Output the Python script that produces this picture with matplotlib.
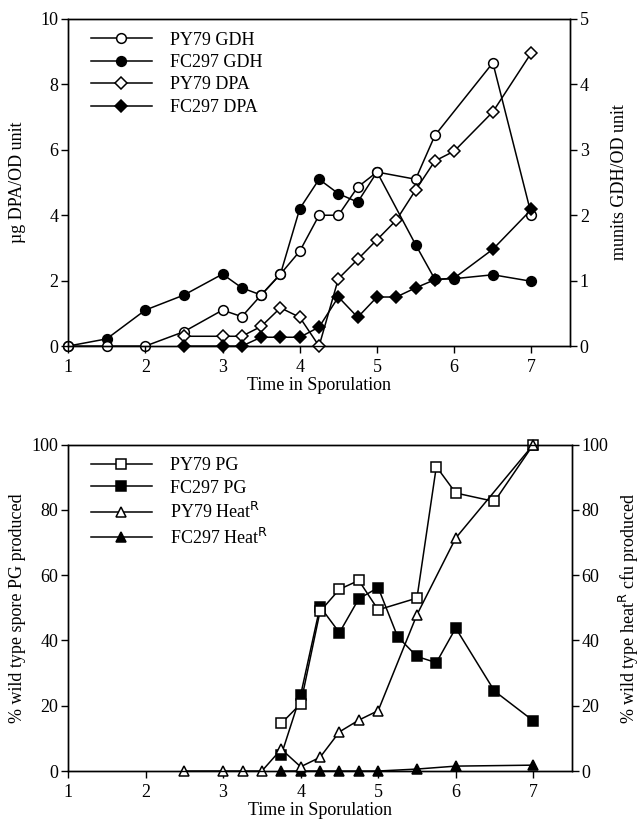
import matplotlib
matplotlib.use('Agg')
import matplotlib.pyplot as plt

plt.rcParams['font.family'] = ['Liberation Serif', 'DejaVu Serif']
plt.rcParams['mathtext.fontset'] = 'dejavusans'

# ---------------- Top panel data ----------------
t_gdh_py = [1, 1.5, 2, 2.5, 3, 3.25, 3.5, 3.75, 4, 4.25, 4.5, 4.75, 5, 5.5, 5.75, 6.5, 7]
py79_gdh = [0, 0, 0, 0.22, 0.55, 0.45, 0.78, 1.1, 1.45, 2.0, 2.0, 2.43, 2.66, 2.55, 3.22, 4.33, 2.0]
t_gdh_fc = [1, 1.5, 2, 2.5, 3, 3.25, 3.5, 3.75, 4, 4.25, 4.5, 4.75, 5, 5.5, 5.75, 6, 6.5, 7]
fc297_gdh = [0, 0.11, 0.55, 0.78, 1.1, 0.89, 0.78, 1.1, 2.1, 2.55, 2.33, 2.2, 2.66, 1.55, 1.02, 1.03, 1.09, 0.99]
t_dpa_py = [2.5, 3, 3.25, 3.5, 3.75, 4, 4.25, 4.5, 4.75, 5, 5.25, 5.5, 5.75, 6, 6.5, 7]
py79_dpa = [0.3, 0.3, 0.3, 0.6, 1.17, 0.88, 0, 2.06, 2.65, 3.25, 3.85, 4.77, 5.66, 5.96, 7.16, 8.97]
t_dpa_fc = [2.5, 3, 3.25, 3.5, 3.75, 4, 4.25, 4.5, 4.75, 5, 5.25, 5.5, 5.75, 6, 6.5, 7]
fc297_dpa = [0, 0, 0, 0.27, 0.27, 0.27, 0.58, 1.5, 0.88, 1.5, 1.5, 1.78, 2.03, 2.08, 2.96, 4.18]

# ---------------- Bottom panel data ----------------
t_pg_py = [3.75, 4, 4.25, 4.5, 4.75, 5, 5.5, 5.75, 6, 6.5, 7]
py79_pg = [14.6, 20.6, 48.9, 55.7, 58.4, 49.4, 53, 93.3, 85.2, 82.6, 100]
t_pg_fc = [3.75, 4, 4.25, 4.5, 4.75, 5, 5.25, 5.5, 5.75, 6, 6.5, 7]
fc297_pg = [4.9, 23.3, 50.4, 42.4, 52.8, 56.2, 41.2, 35.1, 33.2, 43.8, 24.5, 15.4]
t_heat_py = [2.5, 3, 3.25, 3.5, 3.75, 4, 4.25, 4.5, 4.75, 5, 5.5, 6, 7]
py79_heat = [0, 0, 0, 0, 6.7, 1.3, 4.2, 12, 15.6, 18.5, 47.9, 71.4, 100]
t_heat_fc = [3.75, 4, 4.25, 4.5, 4.75, 5, 5.5, 6, 7]
fc297_heat = [0, 0, 0, 0, 0, 0, 0.6, 1.5, 1.8]

x_ticks = [1, 2, 3, 4, 5, 6, 7]

FS = 13
LW = 1.1
MEW = 1.1

fig = plt.figure(figsize=(6.42, 8.24), dpi=100)

def style_axes(ax, ax2):
    for a in (ax, ax2):
        for s in a.spines.values():
            s.set_linewidth(1.0)
        a.tick_params(direction='out', length=5, width=1.0, labelsize=FS, pad=2)
    ax.tick_params(axis='x', pad=4)
    ax.set_xlim(1, 7.5)
    ax.set_xticks(x_ticks)
    ax.set_xlabel('Time in Sporulation', fontsize=FS, labelpad=1)

# ---------------- Top panel ----------------
ax = fig.add_axes([0.106, 0.580, 0.782, 0.397])
ax2 = ax.twinx()
ax.set_zorder(ax2.get_zorder() + 1)
ax.patch.set_visible(False)

h2, = ax2.plot(t_gdh_fc, fc297_gdh, '-o', color='black', lw=LW, ms=7,
               mfc='black', mec='black', mew=MEW, clip_on=False, label='FC297 GDH')
h1, = ax2.plot(t_gdh_py, py79_gdh, '-o', color='black', lw=LW, ms=7,
               mfc='white', mec='black', mew=MEW, clip_on=False, label='PY79 GDH')
h3, = ax.plot(t_dpa_py, py79_dpa, '-D', color='black', lw=LW, ms=6.2,
              mfc='white', mec='black', mew=MEW, clip_on=False, label='PY79 DPA')
h4, = ax.plot(t_dpa_fc, fc297_dpa, '-D', color='black', lw=LW, ms=6.2,
              mfc='black', mec='black', mew=MEW, clip_on=False, label='FC297 DPA')

ax.set_ylim(0, 10)
ax.set_yticks([0, 2, 4, 6, 8, 10])
ax2.set_ylim(0, 5)
ax2.set_yticks([0, 1, 2, 3, 4, 5])
ax.set_ylabel('µg DPA/OD unit', fontsize=FS, labelpad=10)
ax2.set_ylabel('munits GDH/OD unit', fontsize=FS, labelpad=16)
style_axes(ax, ax2)

ax.legend(handles=[h1, h2, h3, h4], loc='upper left', frameon=False, fontsize=FS,
          handlelength=3.4, handletextpad=1.0, labelspacing=0.3,
          borderaxespad=0.3, bbox_to_anchor=(0.02, 1.0))

# ---------------- Bottom panel ----------------
bx = fig.add_axes([0.106, 0.0643, 0.785, 0.396])
bx2 = bx.twinx()

g2, = bx.plot(t_pg_fc, fc297_pg, '-s', color='black', lw=LW, ms=7,
              mfc='black', mec='black', mew=MEW, clip_on=False, label='FC297 PG')
g1, = bx.plot(t_pg_py, py79_pg, '-s', color='black', lw=LW, ms=7,
              mfc='white', mec='black', mew=MEW, clip_on=False, label='PY79 PG')
g4, = bx2.plot(t_heat_fc, fc297_heat, '-^', color='black', lw=LW, ms=7,
               mfc='black', mec='black', mew=MEW, clip_on=False, label='FC297 Heat$^{\\mathrm{R}}$')
g3, = bx2.plot(t_heat_py, py79_heat, '-^', color='black', lw=LW, ms=7,
               mfc='white', mec='black', mew=MEW, clip_on=False, label='PY79 Heat$^{\\mathrm{R}}$')

bx.set_ylim(0, 100)
bx.set_yticks([0, 20, 40, 60, 80, 100])
bx2.set_ylim(0, 100)
bx2.set_yticks([0, 20, 40, 60, 80, 100])
bx.set_ylabel('% wild type spore PG produced', fontsize=FS, labelpad=4)
bx2.set_ylabel('% wild type heat$^{\\mathrm{R}}$ cfu produced', fontsize=FS, labelpad=6)
style_axes(bx, bx2)

bx2.legend(handles=[g1, g2, g3, g4], loc='upper left', frameon=False, fontsize=FS,
           handlelength=3.4, handletextpad=1.0, labelspacing=0.3,
           borderaxespad=0.3, bbox_to_anchor=(0.02, 1.0))

fig.savefig('out.png', dpi=100)
